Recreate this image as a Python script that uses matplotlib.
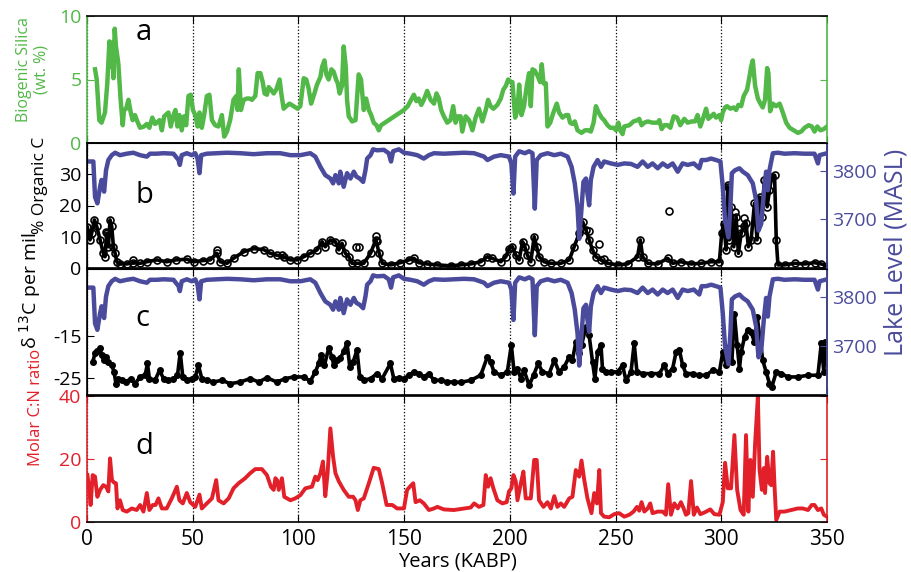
import matplotlib
matplotlib.use('Agg')
import matplotlib.pyplot as plt

plt.rcParams['font.family'] = ['Open Sans', 'DejaVu Sans']
plt.rcParams['axes.unicode_minus'] = False

# ---------------- data ----------------
years_ticks = [0, 50, 100, 150, 200, 250, 300, 350]

bsi_age = [3.8, 4.6, 5.8, 6.9, 8.5, 9.6, 10.6, 11.4, 11.8, 12.5, 13.1, 13.7, 14.8, 15.9, 16.9, 17.5, 18.5, 19.6, 20.7, 21.6,
           22.7, 23.8, 25.1, 27.0, 28.3, 29.5, 30.9, 32.2, 34.3, 35.4, 36.5, 38.5, 39.6, 40.9, 41.8, 42.8, 43.7, 44.8, 45.9, 46.9,
           48.0, 49.1, 50.1, 51.2, 52.3, 53.2, 54.3, 55.4, 56.7, 57.9, 59.1, 60.6, 62.2, 63.8, 64.9, 66.2, 67.7, 69.3, 70.6, 71.2,
           71.8, 72.8, 74.1, 75.6, 76.9, 78.0, 79.6, 80.7, 82.0, 83.1, 84.0, 85.1, 85.9, 87.0, 88.3, 89.5, 91.1, 91.9, 93.0, 94.3,
           95.8, 97.7, 99.6, 100.9, 102.5, 103.7, 104.8, 106.0, 107.2, 108.8, 110.4, 111.2, 112.3, 113.2, 114.3, 115.6, 116.7, 117.8, 118.6, 119.5,
           120.6, 121.4, 122.4, 123.0, 123.8, 125.4, 127.0, 128.5, 129.6, 130.9, 132.0, 133.3, 134.4, 135.6, 136.9, 138.0, 139.1, 149.9, 151.7, 153.3,
           154.6, 155.8, 156.9, 158.1, 159.3, 160.9, 162.5, 164.1, 165.3, 166.4, 167.5, 168.8, 170.4, 171.9, 173.2, 174.3, 175.4, 176.7, 177.5, 179.1,
           180.7, 182.3, 183.8, 185.4, 187.0, 188.6, 189.7, 190.9, 192.2, 194.1, 195.7, 196.9, 198.1, 199.2, 200.4, 201.2, 202.5, 203.6, 204.4, 205.5,
           206.7, 208.0, 209.1, 209.9, 210.7, 211.8, 213.1, 214.3, 215.1, 215.9, 217.0, 217.8, 219.1, 220.6, 222.2, 223.3, 224.9, 226.5, 227.6, 228.5,
           229.6, 230.7, 232.0, 233.9, 235.5, 237.1, 238.3, 239.6, 240.7, 242.0, 243.4, 244.6, 246.2, 247.5, 249.1, 250.2, 251.3, 252.2, 253.3, 254.1,
           256.5, 258.5, 260.4, 261.2, 262.3, 263.6, 265.2, 267.5, 269.9, 270.7, 271.8, 273.1, 274.6, 275.9, 277.5, 279.1, 280.6, 282.5, 284.1, 286.0,
           287.6, 288.8, 290.1, 291.7, 292.8, 293.9, 295.2, 296.4, 297.5, 299.1, 299.9, 300.7, 301.8, 302.7, 304.3, 305.9, 307.0, 308.1, 309.4, 310.6,
           312.2, 313.3, 314.1, 314.9, 316.0, 317.3, 318.5, 319.6, 320.7, 321.7, 322.3, 323.1, 324.4, 325.9, 327.6, 329.1, 330.7, 332.3, 334.3, 336.2,
           337.8, 339.4, 341.3, 342.8, 344.1, 345.4, 346.9, 348.5, 350.0]
bsi_val = [5.8, 5.0, 1.8, 1.6, 2.4, 4.7, 8.0, 6.0, 7.9, 5.1, 9.0, 7.6, 6.3, 3.4, 1.4, 2.6, 2.7, 3.4, 2.4, 1.8,
           2.2, 1.7, 1.2, 1.3, 1.5, 1.2, 2.0, 1.5, 1.8, 1.0, 2.1, 2.4, 1.3, 2.2, 2.6, 1.3, 2.2, 1.0, 2.1, 1.4,
           3.7, 3.8, 2.6, 2.2, 1.3, 2.4, 1.2, 2.2, 3.7, 3.8, 1.8, 1.4, 1.3, 2.2, 0.5, 0.9, 1.8, 3.4, 3.7, 2.6,
           5.8, 2.6, 3.4, 3.5, 3.5, 3.4, 3.7, 5.5, 5.5, 4.8, 3.9, 3.8, 4.4, 4.2, 3.9, 4.2, 5.0, 3.9, 2.7, 2.9,
           3.1, 2.9, 2.7, 2.9, 5.1, 5.0, 4.3, 3.1, 3.7, 4.6, 5.2, 6.0, 6.5, 5.4, 5.0, 5.8, 5.6, 5.0, 4.7, 3.9,
           4.5, 7.6, 6.0, 3.4, 2.1, 1.7, 1.8, 5.4, 5.0, 2.6, 3.5, 2.6, 2.2, 1.6, 1.4, 1.0, 1.4, 2.6, 2.9, 3.4,
           3.8, 3.3, 3.5, 3.0, 3.4, 4.1, 3.4, 3.1, 3.9, 3.5, 2.6, 2.1, 1.6, 1.8, 2.9, 1.6, 2.1, 2.1, 0.9, 2.1,
           1.8, 1.0, 2.0, 2.7, 1.7, 2.6, 3.4, 2.9, 2.7, 3.0, 3.5, 4.2, 4.5, 5.0, 4.8, 4.8, 2.0, 2.6, 4.6, 2.2,
           2.9, 4.5, 5.5, 2.9, 5.8, 5.7, 5.3, 4.8, 6.2, 4.7, 4.7, 1.3, 1.6, 2.4, 3.1, 2.4, 2.0, 2.2, 2.2, 1.6,
           1.5, 1.7, 1.0, 0.8, 1.0, 1.0, 0.9, 1.6, 2.9, 2.4, 2.0, 1.8, 1.4, 1.2, 1.2, 1.0, 1.6, 1.0, 0.7, 1.3,
           1.4, 1.7, 1.8, 1.9, 1.4, 1.6, 1.7, 1.6, 1.6, 1.8, 1.1, 1.4, 1.4, 1.2, 2.1, 2.0, 1.4, 1.9, 1.6, 1.7,
           1.7, 2.2, 1.3, 2.1, 2.7, 1.9, 2.1, 2.3, 2.0, 2.2, 1.8, 2.4, 2.8, 2.9, 2.7, 2.8, 2.6, 3.0, 2.9, 3.7,
           4.2, 5.2, 6.0, 6.5, 4.5, 3.5, 3.1, 2.8, 3.4, 5.9, 5.5, 2.5, 3.1, 2.9, 3.1, 2.4, 1.6, 1.2, 1.0, 0.8,
           0.9, 1.2, 1.4, 1.3, 0.9, 1.3, 1.0, 1.1, 1.3]

lake_age = [1.4, 3.0, 3.8, 4.9, 6.2, 6.9, 8.1, 9.0, 10.1, 11.7, 13.3, 15.6, 18.8, 21.9, 25.1, 28.3, 29.8, 33.0, 36.2, 40.9,
            43.3, 43.9, 44.8, 47.2, 49.6, 51.2, 52.3, 53.2, 54.0, 56.7, 61.4, 66.2, 72.5, 78.8, 85.1, 91.4, 96.2, 100.9, 105.6, 108.0,
            110.4, 112.7, 115.1, 116.4, 117.5, 119.1, 119.8, 121.4, 123.0, 124.6, 126.2, 127.4, 129.0, 130.6, 131.7, 132.5, 134.1, 135.3, 137.2, 140.4,
            142.7, 143.8, 144.8, 147.5, 149.9, 153.0, 156.2, 159.3, 161.7, 164.1, 168.8, 173.5, 178.3, 183.1, 187.8, 189.4, 192.5, 195.7, 199.6, 200.7,
            201.7, 202.5, 204.4, 207.1, 209.1, 210.7, 211.8, 212.7, 214.6, 217.8, 221.0, 224.1, 227.3, 229.2, 230.7, 232.0, 232.8, 233.6, 234.8, 236.0,
            236.7, 237.5, 238.3, 239.6, 241.5, 243.1, 244.6, 247.8, 251.0, 254.1, 257.3, 260.4, 262.8, 265.2, 267.5, 269.9, 272.3, 274.6, 277.0, 279.4,
            281.7, 284.1, 287.0, 289.6, 290.7, 292.8, 295.2, 297.5, 299.6, 300.7, 301.8, 303.4, 304.3, 305.0, 306.5, 308.6, 310.2, 312.5, 314.9, 316.5,
            317.6, 318.9, 320.1, 321.2, 322.0, 322.8, 324.4, 326.8, 329.9, 334.7, 339.4, 344.1, 345.7, 346.5, 350.0]
lake_lvl = [3819, 3819, 3746, 3733, 3767, 3781, 3757, 3801, 3822, 3832, 3837, 3832, 3835, 3837, 3832, 3829, 3835, 3835, 3836, 3835,
            3822, 3812, 3832, 3836, 3832, 3836, 3825, 3795, 3832, 3835, 3836, 3837, 3836, 3834, 3836, 3836, 3832, 3832, 3836, 3829,
            3808, 3791, 3784, 3774, 3791, 3774, 3798, 3767, 3795, 3784, 3798, 3788, 3784, 3777, 3801, 3825, 3832, 3844, 3842, 3843,
            3836, 3819, 3840, 3844, 3837, 3835, 3832, 3825, 3832, 3836, 3835, 3836, 3837, 3836, 3829, 3822, 3829, 3832, 3829, 3815,
            3753, 3829, 3840, 3836, 3840, 3836, 3722, 3822, 3832, 3836, 3832, 3835, 3829, 3808, 3774, 3726, 3660, 3705, 3777, 3784,
            3753, 3729, 3781, 3808, 3822, 3808, 3819, 3815, 3812, 3815, 3814, 3808, 3819, 3808, 3815, 3805, 3815, 3808, 3815, 3798,
            3815, 3812, 3815, 3805, 3822, 3822, 3825, 3822, 3819, 3767, 3698, 3663, 3726, 3795, 3801, 3805, 3798, 3791, 3774, 3739,
            3677, 3691, 3753, 3798, 3760, 3801, 3836, 3837, 3835, 3836, 3835, 3835, 3815, 3832, 3836]

orgc_age = [0.2, 1.4, 2.2, 3.5, 4.6, 6.2, 7.7, 8.5, 9.3, 10.1, 10.9, 11.7, 12.5, 13.3, 14.1, 15.6, 18.8, 21.9, 25.1, 28.3,
            33.0, 37.7, 42.0, 47.2, 50.4, 55.1, 58.3, 61.4, 63.0, 66.2, 69.3, 74.1, 78.8, 83.5, 86.7, 89.8, 93.0, 96.2, 99.3, 102.5,
            105.6, 108.8, 111.2, 112.7, 115.1, 117.5, 119.1, 120.6, 122.2, 123.8, 125.4, 127.7, 130.9, 134.1, 136.6, 138.2, 139.7, 143.7, 148.2, 152.2,
            154.6, 156.9, 160.9, 165.6, 172.0, 176.7, 181.5, 186.2, 189.4, 191.7, 195.7, 198.1, 199.6, 201.2, 202.8, 204.4, 206.0, 207.1, 208.3, 209.9,
            211.5, 212.7, 213.8, 216.2, 219.4, 224.1, 228.1, 230.4, 232.8, 234.4, 236.0, 237.5, 239.1, 240.7, 243.1, 246.2, 251.0, 255.7, 260.4, 261.7,
            262.8, 265.2, 269.9, 274.6, 277.0, 280.9, 285.7, 290.4, 295.2, 299.1, 300.2, 301.2, 302.3, 303.1, 303.8, 304.6, 305.9, 307.0, 308.1, 309.4,
            310.6, 311.7, 312.8, 314.1, 315.7, 316.9, 318.1, 319.2, 320.4, 321.7, 322.8, 323.9, 325.2, 326.0, 326.8, 329.9, 334.7, 339.4, 344.1, 347.3,
            350.0]
orgc_val = [13.0, 9.0, 11.1, 15.4, 13.3, 9.0, 4.7, 3.6, 11.1, 6.8, 15.4, 13.3, 6.8, 4.7, 2.0, 1.3, 1.3, 1.7, 1.5, 2.0,
            2.6, 2.0, 2.6, 2.8, 2.0, 2.4, 2.6, 4.7, 2.0, 1.5, 3.1, 5.2, 6.2, 5.9, 4.7, 4.1, 3.6, 2.6, 2.6, 3.6,
            4.7, 5.8, 8.4, 6.8, 9.0, 8.4, 5.8, 7.9, 4.7, 3.6, 1.5, 1.5, 1.5, 4.7, 9.0, 4.7, 1.5, 1.0, 1.7, 2.6,
            3.1, 1.7, 1.3, 1.0, 0.7, 1.0, 1.3, 2.0, 3.6, 3.1, 2.0, 3.6, 6.2, 6.8, 4.1, 2.6, 8.4, 6.8, 4.1, 2.0,
            10.0, 6.8, 3.6, 2.0, 1.5, 1.5, 2.6, 6.8, 11.1, 14.8, 12.1, 9.0, 5.8, 3.6, 2.6, 1.5, 1.0, 1.3, 3.6, 9.0,
            3.6, 1.5, 1.3, 3.1, 1.5, 2.0, 1.3, 1.5, 2.0, 2.0, 11.1, 14.1, 5.8, 26.0, 9.0, 19.6, 6.8, 16.4, 4.7, 11.1,
            13.3, 14.4, 6.8, 9.0, 20.7, 9.0, 22.7, 16.4, 28.2, 19.6, 25.0, 29.2, 29.7, 9.0, 1.0, 1.0, 1.5, 1.3, 1.7, 1.3,
            0.7]

# scattered %OC samples lying off the main curve
orgc_out_age = [9.0, 21.9, 61.4, 92.4, 127.0, 128.5, 136.6, 137.2, 237.2, 242.3, 244.6, 275.1, 303.1, 306.5, 308.6, 310.9]
orgc_out_val = [11.6, 2.6, 5.8, 4.1, 6.8, 6.6, 10.2, 8.5, 11.9, 7.6, 2.8, 18.2, 26.6, 18.0, 12.5, 16.0]

d13c_age = [2.7, 3.8, 4.9, 6.2, 6.9, 8.1, 9.0, 10.1, 11.7, 12.8, 13.7, 14.8, 16.4, 18.5, 20.7, 22.7, 25.1, 27.5, 28.6, 29.5,
            32.2, 34.3, 36.2, 38.5, 40.9, 42.8, 44.1, 45.3, 47.2, 49.6, 51.2, 52.7, 54.3, 56.7, 59.8, 63.8, 67.7, 72.5, 77.2, 81.2,
            85.1, 89.8, 93.8, 97.7, 102.5, 105.6, 108.0, 109.6, 110.7, 112.3, 114.3, 115.9, 116.7, 118.3, 119.8, 121.4, 123.0, 124.3, 125.9, 127.7,
            129.0, 130.9, 134.1, 137.2, 139.6, 143.5, 145.1, 147.5, 149.9, 152.2, 154.6, 156.9, 159.3, 161.7, 164.1, 167.2, 170.4, 173.5, 176.7, 181.5,
            186.2, 189.4, 190.9, 192.5, 195.7, 198.8, 200.7, 202.0, 203.6, 205.2, 206.7, 209.1, 211.2, 213.4, 215.4, 218.6, 221.0, 223.3, 225.7, 228.1,
            229.6, 231.2, 232.8, 233.9, 236.0, 237.5, 239.1, 240.2, 241.5, 243.1, 243.8, 245.4, 247.8, 251.0, 253.3, 254.9, 257.3, 258.8, 260.1, 262.8,
            266.7, 270.7, 273.1, 274.6, 277.0, 278.6, 280.2, 281.7, 283.3, 286.5, 289.6, 292.8, 296.0, 299.1, 300.7, 302.3, 303.8, 305.0, 306.2, 307.5,
            308.6, 309.4, 311.0, 312.5, 314.1, 315.7, 317.0, 318.5, 319.6, 321.2, 322.8, 323.9, 326.0, 328.3, 331.5, 336.2, 341.0, 345.7, 347.3, 348.5,
            349.2, 350.0]
d13c_val = [-21.1, -19.1, -18.6, -17.9, -19.5, -20.7, -20.0, -21.1, -21.9, -23.5, -26.3, -25.1, -25.5, -25.9, -25.1, -26.3, -24.7, -24.3, -21.5, -25.1,
            -25.5, -23.1, -25.1, -25.5, -25.1, -24.3, -18.9, -24.7, -25.5, -25.1, -24.7, -21.9, -25.1, -25.5, -25.9, -25.5, -26.3, -25.9, -25.1, -25.9,
            -24.9, -25.9, -25.1, -24.7, -24.7, -25.7, -23.5, -21.5, -19.5, -21.9, -17.9, -20.0, -21.9, -20.7, -20.3, -18.6, -16.7, -22.3, -21.1, -18.3,
            -24.7, -25.5, -25.1, -23.9, -25.1, -21.5, -25.1, -24.9, -25.1, -24.3, -23.5, -23.9, -24.7, -23.9, -25.5, -25.5, -25.9, -25.9, -26.0, -25.5,
            -24.3, -19.9, -21.1, -23.5, -24.3, -23.5, -17.1, -23.5, -22.7, -25.1, -23.1, -26.7, -24.3, -21.5, -23.5, -23.9, -20.7, -23.5, -22.3, -19.9,
            -20.7, -16.4, -19.1, -17.1, -12.8, -14.8, -21.1, -25.1, -18.8, -17.1, -22.7, -23.5, -23.5, -23.5, -21.9, -25.5, -23.5, -16.7, -23.5, -23.9,
            -23.9, -23.9, -21.9, -23.9, -22.7, -18.8, -18.3, -21.9, -23.9, -23.9, -24.3, -24.3, -23.1, -23.5, -18.8, -21.9, -17.5, -21.1, -9.6, -17.1,
            -22.7, -18.8, -15.2, -13.6, -14.0, -16.4, -10.4, -16.4, -20.7, -23.5, -26.3, -27.1, -23.5, -23.9, -24.7, -24.7, -24.3, -24.3, -16.7, -23.5,
            -16.5, -17.1]

cn_age = [0.2, 1.1, 1.7, 2.7, 3.8, 4.9, 6.2, 7.7, 9.0, 10.1, 10.9, 11.8, 12.8, 13.7, 14.4, 15.6, 16.9, 18.8, 21.2, 23.5,
          25.1, 26.7, 28.3, 29.5, 31.1, 32.4, 33.8, 35.4, 37.7, 40.1, 42.5, 43.7, 45.3, 47.2, 48.8, 51.2, 53.2, 54.3, 56.7, 59.1,
          61.1, 62.2, 64.6, 67.0, 69.3, 71.7, 74.8, 77.2, 79.6, 82.7, 85.1, 87.0, 88.3, 89.1, 89.9, 90.7, 92.2, 93.3, 96.2, 98.5,
          100.9, 103.3, 106.4, 108.0, 109.1, 110.4, 111.6, 112.7, 113.8, 115.1, 116.4, 117.5, 119.1, 121.4, 123.8, 125.9, 127.0, 128.1, 129.3, 130.9,
          133.3, 135.6, 138.0, 139.6, 141.7, 144.4, 146.7, 149.9, 151.4, 152.7, 154.3, 155.4, 157.4, 159.3, 161.7, 164.1, 165.7, 168.8, 173.5, 178.3,
          181.5, 183.1, 185.4, 187.5, 188.6, 189.7, 190.9, 192.2, 194.1, 196.5, 198.5, 199.6, 200.7, 201.7, 202.8, 203.6, 205.2, 206.4, 207.5, 209.9,
          211.5, 212.7, 213.8, 215.9, 217.8, 219.4, 221.0, 222.5, 224.1, 225.7, 228.1, 229.6, 231.2, 232.8, 233.9, 235.2, 236.7, 238.6, 239.9, 241.2,
          242.3, 243.1, 244.6, 247.0, 249.4, 251.7, 254.1, 256.5, 258.5, 260.1, 261.2, 262.3, 263.6, 265.2, 266.4, 267.5, 269.9, 272.3, 273.8, 274.9,
          276.2, 277.8, 279.4, 280.9, 282.2, 283.3, 284.4, 285.7, 287.0, 288.5, 290.1, 292.0, 294.8, 296.7, 299.1, 300.7, 301.8, 303.1, 304.6, 306.2,
          307.5, 309.1, 310.6, 311.7, 312.8, 313.8, 314.9, 316.0, 317.3, 318.1, 319.2, 320.1, 320.7, 321.7, 322.8, 323.6, 324.5, 325.2, 326.0, 327.6,
          329.9, 333.1, 336.2, 338.6, 341.0, 342.8, 344.1, 345.7, 347.3, 348.5, 350.0]
cn_val = [14.9, 10.2, 5.4, 14.9, 14.4, 8.0, 10.2, 11.7, 11.2, 9.7, 20.2, 13.3, 12.5, 12.3, 4.3, 6.9, 3.8, 3.3, 4.3, 3.8,
          5.4, 3.3, 9.2, 3.8, 5.4, 5.4, 7.5, 4.3, 4.3, 7.5, 11.2, 6.9, 5.9, 9.2, 6.3, 4.8, 8.7, 4.3, 5.9, 7.5,
          13.3, 6.9, 5.9, 7.5, 10.7, 12.3, 13.9, 15.5, 16.8, 16.8, 14.9, 11.2, 10.2, 13.9, 13.3, 10.2, 13.9, 8.0, 6.9, 7.5,
          8.5, 10.7, 11.2, 14.4, 13.3, 15.5, 19.2, 8.2, 15.5, 29.7, 20.7, 15.5, 12.9, 10.2, 8.0, 8.0, 6.9, 3.8, 6.9, 7.5,
          12.3, 17.2, 16.8, 12.3, 5.4, 5.4, 4.3, 4.3, 10.2, 11.2, 12.3, 6.3, 6.9, 5.9, 3.8, 4.3, 4.8, 4.0, 3.8, 4.3,
          4.6, 5.9, 4.8, 5.4, 14.9, 11.2, 13.9, 10.7, 6.9, 5.9, 6.3, 9.7, 10.7, 14.9, 12.9, 6.9, 12.3, 16.0, 7.5, 7.5,
          19.7, 19.7, 6.9, 4.8, 6.3, 4.3, 8.2, 4.8, 5.9, 4.8, 7.5, 8.0, 16.5, 14.4, 19.5, 13.3, 7.5, 2.8, 9.2, 5.9,
          16.5, 2.8, 1.7, 1.5, 2.5, 2.8, 1.7, 2.3, 3.3, 4.8, 3.6, 6.3, 3.3, 4.3, 5.9, 2.8, 3.3, 3.3, 2.3, 12.0,
          2.3, 5.9, 4.3, 6.3, 4.3, 2.3, 2.8, 13.0, 2.3, 4.6, 2.5, 3.0, 4.0, 2.5, 2.3, 6.3, 18.8, 10.7, 10.7, 27.6,
          10.2, 3.8, 2.3, 27.6, 3.3, 19.7, 8.0, 25.0, 39.8, 16.5, 10.2, 17.1, 9.2, 20.7, 12.3, 11.7, 22.3, 11.2, 0.6, 3.3,
          3.3, 3.8, 4.3, 4.3, 3.8, 5.4, 5.4, 3.8, 4.3, 2.3, 1.7]

# ---------------- style ----------------
GREEN = '#52b848'
BLUE = '#4b4b9d'
RED = '#e2202a'
YTICK_FS = 14
XTICK_FS = 15

fig = plt.figure(figsize=(9.11, 5.72), dpi=100)
L = 87 / 911
W = 740 / 911


def rect(top, bot):
    return [L, 1 - bot / 572, W, (bot - top) / 572]


axa = fig.add_axes(rect(16, 143))
axb = fig.add_axes(rect(143, 268))
axc = fig.add_axes(rect(269, 395))
axd = fig.add_axes(rect(396, 522))

for ax in (axa, axb, axc, axd):
    ax.set_xlim(0, 350)
    ax.set_xticks(years_ticks)
    ax.grid(axis='x', linestyle=':', color='k', linewidth=0.9)
    ax.tick_params(axis='both', direction='in', length=5, top=True, labelsize=YTICK_FS, pad=4)
    ax.tick_params(axis='x', labelbottom=False)
    for s in ax.spines.values():
        s.set_linewidth(1.2)

# ---- panel a ----
axa.plot(bsi_age, bsi_val, color=GREEN, lw=3.2, solid_joinstyle='round')
axa.set_ylim(0, 10)
axa.set_yticks([0, 5, 10])
axa.tick_params(axis='y', colors=GREEN, right=True, labelright=False)
axa.spines['left'].set_color(GREEN)
axa.spines['right'].set_color(GREEN)
axa.set_ylabel('Biogenic Silica\n(wt. %)', color=GREEN, fontsize=11.5, linespacing=1.15)
axa.yaxis.set_label_coords(-0.05, 0.575)
axa.text(0.066, 0.87, 'a', transform=axa.transAxes, fontsize=21, va='center', ha='left')

# ---- panel b ----
axb.plot(orgc_age, orgc_val, color='k', lw=2.6, marker='o', mfc='none', mec='k', ms=5, mew=1.2)
axb.plot(orgc_out_age, orgc_out_val, ls='none', marker='o', mfc='none', mec='k', ms=5, mew=1.2)
axb.set_ylim(0, 40)
axb.set_yticks([0, 10, 20, 30])
axb.set_ylabel('% Organic C', fontsize=12.5)
axb.yaxis.set_label_coords(-0.053, 0.66)
axb.text(0.066, 0.58, 'b', transform=axb.transAxes, fontsize=21, va='center', ha='left')
axb2 = axb.twinx()
axb2.plot(lake_age, lake_lvl, color=BLUE, lw=3.2)
axb2.set_xlim(0, 350)
axb2.set_ylim(3600, 3857)
axb2.set_yticks([3700, 3800])
axb2.tick_params(axis='y', direction='in', length=5, colors=BLUE, labelsize=YTICK_FS, pad=4)
axb2.spines['right'].set_color(BLUE)
axb2.spines['right'].set_linewidth(1.2)

# ---- panel c ----
axc.plot(d13c_age, d13c_val, color='k', lw=2.6, marker='o', mfc='k', mec='k', ms=4)
axc.set_ylim(-29, 1)
axc.set_yticks([-25, -15])
axc.set_ylabel('δ $^{13}$C per mil', fontsize=14)
axc.yaxis.set_label_coords(-0.06, 0.83)
axc.text(0.066, 0.61, 'c', transform=axc.transAxes, fontsize=21, va='center', ha='left')
axc2 = axc.twinx()
axc2.plot(lake_age, lake_lvl, color=BLUE, lw=3.2)
axc2.set_xlim(0, 350)
axc2.set_ylim(3600, 3857)
axc2.set_yticks([3700, 3800])
axc2.tick_params(axis='y', direction='in', length=5, colors=BLUE, labelsize=YTICK_FS, pad=4)
axc2.spines['right'].set_color(BLUE)
axc2.spines['right'].set_linewidth(1.2)

# ---- panel d ----
axd.plot(cn_age, cn_val, color=RED, lw=2.8)
axd.set_ylim(0, 40)
axd.set_yticks([0, 20, 40])
axd.tick_params(axis='y', colors=RED, right=True, labelright=False)
axd.tick_params(axis='x', labelbottom=True, labelsize=XTICK_FS, pad=5)
axd.spines['left'].set_color(RED)
axd.spines['right'].set_color(RED)
axd.set_ylabel('Molar C:N ratio', color=RED, fontsize=12)
axd.yaxis.set_label_coords(-0.058, 0.91)
axd.set_xlabel('Years (KABP)', fontsize=14.5, labelpad=1)
axd.text(0.066, 0.6, 'd', transform=axd.transAxes, fontsize=21, va='center', ha='left')

fig.text(896 / 911, 1 - 252 / 572, 'Lake Level (MASL)', rotation=90, color=BLUE,
         fontsize=18, ha='center', va='center')

fig.savefig('out.png', dpi=100)
